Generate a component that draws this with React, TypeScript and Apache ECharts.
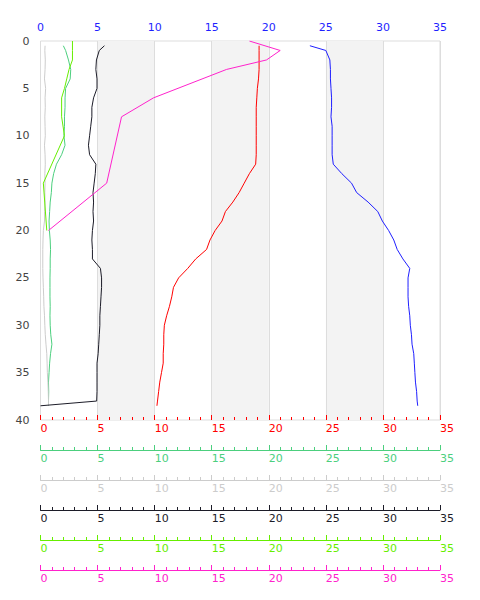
import React, { useEffect, useRef } from "react";
import * as echarts from "echarts";

const depths = [0.5, 1, 2, 3, 4, 5, 6, 7, 8, 9, 10, 11, 12, 13, 14, 15, 16, 17, 18, 19, 20, 21, 22, 23, 24, 25, 26, 27, 28, 29, 30, 31, 32, 33, 34, 35, 36, 37, 38, 38.5];

const blueVals = [23.6, 25.0, 25.35, 25.4, 25.4, 25.45, 25.5, 25.5, 25.45, 25.55, 25.55, 25.55, 25.55, 25.65, 26.4, 27.25, 27.7, 28.7, 29.55, 29.95, 30.5, 30.95, 31.25, 31.75, 32.35, 32.2, 32.2, 32.2, 32.25, 32.35, 32.4, 32.5, 32.55, 32.7, 32.75, 32.8, 32.85, 32.95, 33.0, 33.05];

const redVals = [19.15, 19.15, 19.15, 19.15, 19.1, 19.0, 18.95, 18.9, 18.9, 18.9, 18.9, 18.9, 18.9, 18.85, 18.3, 17.85, 17.4, 16.85, 16.2, 15.9, 15.3, 14.85, 14.55, 13.6, 12.9, 12.1, 11.65, 11.5, 11.3, 11.05, 10.85, 10.8, 10.8, 10.75, 10.75, 10.6, 10.45, 10.35, 10.25, 10.2];

const greenVals = [2.0, 2.2, 2.45, 2.65, 2.6, 2.2, 2.15, 2.15, 2.1, 2.1, 2.05, 2.15, 1.85, 1.4, 1.15, 1.0, 0.95, 0.85, 0.8, 0.75, 0.78, 0.85, 0.88, 0.85, 0.85, 0.83, 0.83, 0.83, 0.85, 0.83, 0.85, 0.9, 1.0, 0.88, 0.8, 0.75, 0.7, 0.72, 0.7, 0.7];

const grayVals = [0.4, 0.38, 0.42, 0.4, 0.35, 0.45, 0.4, 0.42, 0.38, 0.4, 0.42, 0.35, 0.4, 0.42, 0.38, 0.4, 0.38, 0.4, 0.36, 0.35, 0.25, 0.22, 0.2, 0.2, 0.2, 0.22, 0.25, 0.28, 0.3, 0.35, 0.38, 0.42, 0.48, 0.55, 0.58, 0.6, 0.65, 0.68, 0.7, 0.7];

const blackVals = [5.6, 5.15, 4.9, 4.85, 4.95, 4.95, 4.65, 4.5, 4.5, 4.4, 4.3, 4.2, 4.3, 4.85, 4.8, 4.7, 4.6, 4.65, 4.6, 4.65, 4.55, 4.5, 4.55, 4.55, 5.25, 5.35, 5.35, 5.3, 5.25, 5.2, 5.2, 5.15, 5.1, 5.05, 4.95, 4.95, 4.95, 4.95, 4.92, 0];

const shallowDepths = [0, 1, 2, 3, 4, 5, 6, 8, 10, 15, 20];
const limeVals = [2.8, 2.8, 2.8, 2.5, 2.3, 2.1, 1.85, 1.85, 2.1, 0.25, 0.55];

const magentaDepths = [0, 1, 2, 3, 6, 8, 15, 20];
const magentaVals = [18.3, 21.0, 19.8, 16.3, 9.9, 7.1, 5.8, 0.7];

const xTickMin = 0;
const xTickMax = 35;
const xTickStep = 5;
const yTickMin = 0;
const yTickMax = 40;
const yTickStep = 5;

const BLUE = "#1f1fff";
const RED = "#ff0000";
const GREEN = "#4ccf7e";
const GRAY = "#cccccc";
const BLACK = "#1c1c28";
const LIME = "#66ee00";
const MAGENTA = "#ff22cc";

const pairs = (vals: number[], ds: number[]) => vals.map((v, i) => [v, ds[i]]);

function bottomAxis(color: string, offset: number, showLine: boolean, withSplit: boolean) {
  return {
    type: "value",
    position: "bottom",
    offset,
    min: xTickMin,
    max: xTickMax,
    interval: xTickStep,
    axisLine: { show: showLine, lineStyle: { color, width: 1 } },
    axisTick: { show: true, inside: true, length: 5, lineStyle: { color } },
    minorTick: { show: true, splitNumber: 5, length: 3, lineStyle: { color } },
    axisLabel: { color, align: "left", margin: 3, fontSize: 11, fontFamily: "DejaVu Sans" },
    splitLine: { show: withSplit, lineStyle: { color: "#dddddd", width: 1 } },
    splitArea: withSplit ? { show: true, areaStyle: { color: ["rgba(255,255,255,0)", "#f3f3f3"] } } : { show: false },
  };
}

export default function App() {
  const ref = useRef<HTMLDivElement>(null);
  useEffect(() => {
    document.body.style.margin = "0";
    const chart = echarts.init(ref.current!, undefined, { renderer: "svg" });
    const line = (name: string, data: number[][], color: string, xi: number) => ({
      name,
      type: "line",
      xAxisIndex: xi,
      yAxisIndex: 0,
      data,
      showSymbol: false,
      symbol: "none",
      lineStyle: { color, width: 1 },
      itemStyle: { color },
      z: 3,
    });
    chart.setOption({
      animation: false,
      backgroundColor: "#ffffff",
      grid: { left: 40.5, right: 40, top: 41, bottom: 180, show: true, borderColor: "#dddddd", borderWidth: 1, backgroundColor: "transparent" },
      xAxis: [
        {
          type: "value",
          position: "top",
          min: xTickMin,
          max: xTickMax,
          interval: xTickStep,
          axisLine: { show: false },
          axisTick: { show: false },
          splitLine: { show: false },
          axisLabel: { color: BLUE, fontSize: 11, fontFamily: "DejaVu Sans", margin: 8 },
        },
        bottomAxis(RED, 0, false, true),
        bottomAxis(GREEN, 30, true, false),
        bottomAxis(GRAY, 60, true, false),
        bottomAxis(BLACK, 90, true, false),
        bottomAxis(LIME, 120, true, false),
        bottomAxis(MAGENTA, 150, true, false),
      ],
      yAxis: [
        {
          type: "value",
          inverse: true,
          min: yTickMin,
          max: yTickMax,
          interval: yTickStep,
          axisLine: { show: false },
          axisTick: { show: false },
          splitLine: { show: false },
          axisLabel: { color: "#444444", fontSize: 11, fontFamily: "DejaVu Sans", margin: 11 },
        },
      ],
      series: [
        line("blue", pairs(blueVals, depths), BLUE, 0),
        line("red", pairs(redVals, depths), RED, 1),
        line("green", pairs(greenVals, depths), GREEN, 2),
        line("gray", pairs(grayVals, depths), GRAY, 3),
        line("black", pairs(blackVals, depths), BLACK, 4),
        line("lime", pairs(limeVals, shallowDepths), LIME, 5),
        line("magenta", pairs(magentaVals, magentaDepths), MAGENTA, 6),
      ],
    });
    return () => chart.dispose();
  }, []);
  return <div ref={ref} style={{ width: 480, height: 600 }} />;
}
